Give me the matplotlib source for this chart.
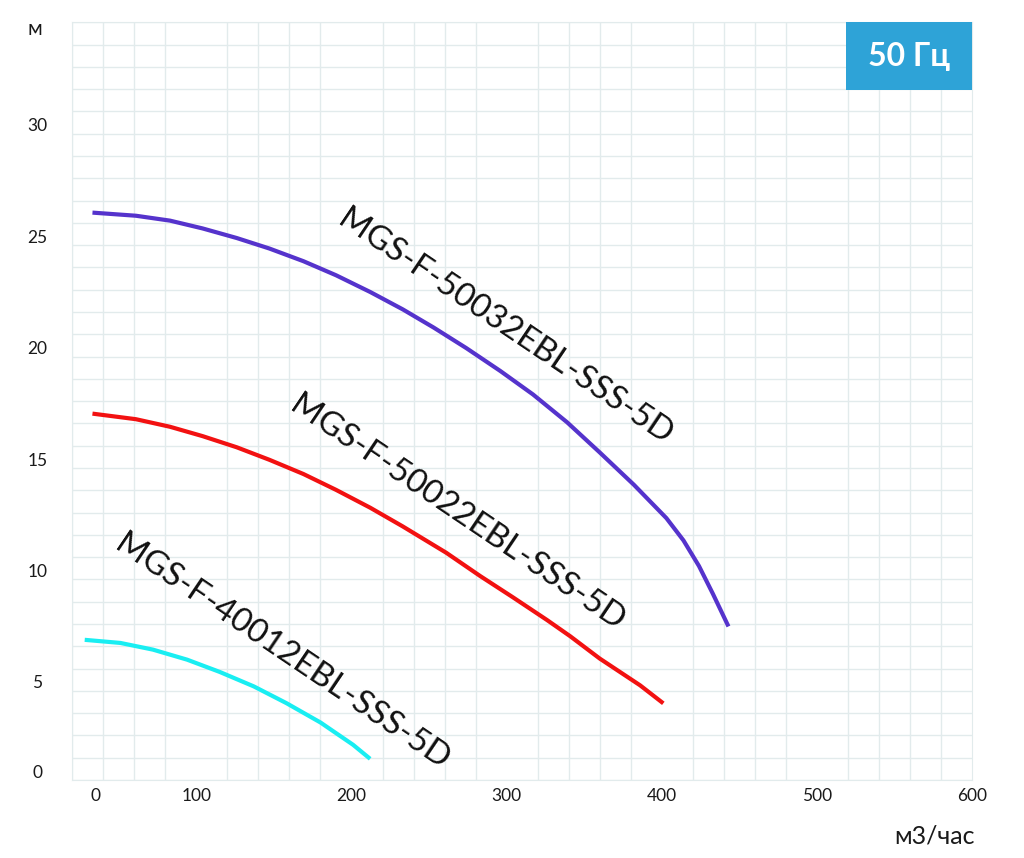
import matplotlib.pyplot as plt
from matplotlib.patches import Rectangle
import numpy as np

fonts = ['Lato', 'Open Sans', 'DejaVu Sans']
plt.rcParams['font.family'] = fonts

# pump curves (Q in m3/h on the chart's grid, H in m)
q_50032 = [33, 61, 83, 104, 126, 147, 169, 190, 212, 233, 253, 274, 296, 317, 339, 360, 382, 403, 414, 424, 433, 443]
h_50032 = [26.06, 25.92, 25.70, 25.35, 24.92, 24.45, 23.88, 23.25, 22.50, 21.72, 20.90, 19.98, 18.95, 17.90, 16.65, 15.30, 13.85, 12.35, 11.35, 10.20, 8.95, 7.49]

q_50022 = [33, 61, 83, 104, 126, 147, 169, 190, 212, 233, 261, 283, 304, 326, 341, 360, 386, 401]
h_50022 = [17.04, 16.79, 16.45, 16.03, 15.53, 14.97, 14.33, 13.62, 12.82, 11.98, 10.80, 9.75, 8.80, 7.78, 7.05, 6.05, 4.85, 4.04]

q_40012 = [28, 51, 72, 94, 115, 137, 158, 180, 201, 212]
h_40012 = [6.89, 6.75, 6.45, 6.00, 5.45, 4.80, 4.05, 3.18, 2.18, 1.55]

names = ['MGS-F-50032EBL-SSS-5D', 'MGS-F-50022EBL-SSS-5D', 'MGS-F-40012EBL-SSS-5D']
label_pos = [(299, 20.9), (268, 12.55), (155, 6.35)]

x_ticks = [35, 100, 200, 300, 400, 500, 600]
x_labels = ['0', '100', '200', '300', '400', '500', '600']
y_ticks = [1.0, 5, 10, 15, 20, 25, 30]
y_labels = ['0', '5', '10', '15', '20', '25', '30']

fig = plt.figure(figsize=(10.24, 8.58), dpi=100)
ax = fig.add_axes([72.3 / 1024, 78 / 858, 899.7 / 1024, 757.7 / 858])

grid_c = '#e2ebec'
ax.set_xlim(20, 600)
ax.set_ylim(0.6, 34.6)
ax.set_xticks(np.arange(20, 601, 20), minor=True)
ax.set_yticks(np.arange(0.6, 34.7, 1), minor=True)
ax.grid(which='minor', color=grid_c, linewidth=1)
ax.tick_params(which='both', length=0)
for s in ax.spines.values():
    s.set_color(grid_c)

ax.set_xticks(x_ticks, x_labels)
ax.set_yticks(y_ticks, y_labels)
ax.tick_params(axis='x', pad=6, labelsize=12.5, labelcolor='#1a1a1a')
ax.tick_params(axis='y', pad=25, labelsize=12.5, labelcolor='#1a1a1a')
for t in ax.get_yticklabels():
    t.set_horizontalalignment('center')

style = dict(lw=3, solid_capstyle='butt', solid_joinstyle='round')
ax.plot(q_50032, h_50032, color='#5533cc', **style)
ax.plot(q_50022, h_50022, color='#f21111', **style)
ax.plot(q_40012, h_40012, color='#19eef2', **style)

for name, (x, y) in zip(names, label_pos):
    ax.text(x, y, name, rotation=-34, rotation_mode='anchor', ha='center', va='center',
            fontsize=24, color='#111111')

ax.add_patch(Rectangle((0.86, 0.9107), 0.14, 0.0893, transform=ax.transAxes,
                       facecolor='#2ea3d7', edgecolor='none', zorder=5))
ax.text(0.93, 0.9553, '50 Гц', transform=ax.transAxes, ha='center', va='center',
        fontsize=23, fontweight='bold', color='white', zorder=6)

fig.text(35 / 1024, 1 - 29 / 858, 'м', ha='center', va='center', fontsize=15, color='#1a1a1a')
fig.text(935 / 1024, 1 - 836 / 858, 'м3/час', ha='center', va='center', fontsize=18, color='#1a1a1a')

fig.savefig('out.png', dpi=100, facecolor='white')
